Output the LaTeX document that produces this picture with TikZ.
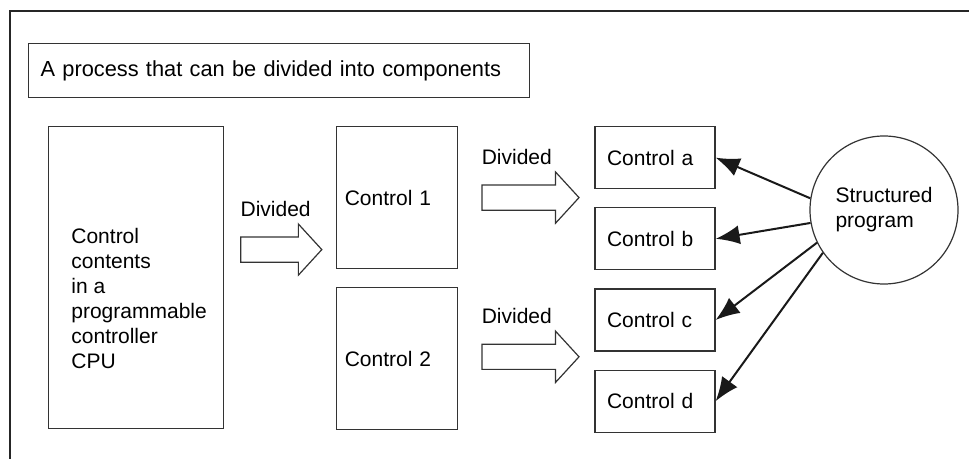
\documentclass[tikz,border=0pt]{standalone}
\usepackage{fontspec}
\setmainfont{Liberation Sans}
\usetikzlibrary{shapes,shapes.arrows,arrows.meta,positioning}
\newcommand{\dfont}{\fontsize{10.5pt}{12.5pt}\selectfont}
\tikzstyle{titlebox}=[rectangle,draw=black!80,line width=0.6pt,inner xsep=6pt,inner ysep=0pt,text width=238.5pt,minimum height=27pt,align=left,font=\fontsize{10.9pt}{13pt}\selectfont]
\tikzstyle{cpubox}=[rectangle,draw=black!80,line width=0.6pt,minimum width=87.5pt,minimum height=151pt]
\tikzstyle{cputext}=[inner sep=0pt,align=left,font=\dfont]
\tikzstyle{ctlbox}=[rectangle,draw=black!80,line width=0.6pt,inner xsep=4pt,text width=52.5pt,minimum height=71pt,align=left,font=\dfont]
\tikzstyle{subbox}=[rectangle,draw=black!80,line width=0.6pt,inner xsep=6pt,text width=48pt,minimum height=31pt,align=left,font=\dfont]
\tikzstyle{prog}=[circle,draw=black!80,line width=0.6pt,minimum size=74pt,inner sep=0pt,align=left,font=\dfont]
\tikzstyle{bigarr}=[single arrow,draw=black!80,line width=0.6pt,inner xsep=0pt,inner ysep=6pt,minimum width=25pt,single arrow head extend=6.5pt,single arrow tip angle=95]
\tikzstyle{lbl}=[inner sep=0pt,font=\dfont]
\tikzstyle{arr}=[-{Latex[length=12pt,width=9.5pt]},line width=1pt,black!90]
\begin{document}
\begin{tikzpicture}
\useasboundingbox (0,0) rectangle (484.5pt,-229.5pt);
% outer frame
\draw[line width=1pt,black!85] (5pt,-229.5pt) -- (5pt,-5.75pt) -- (484.5pt,-5.75pt);
\node[titlebox,anchor=north west] (title) at (14pt,-21.5pt) {A process that can be divided into components};
\node[cpubox,anchor=north west] (cpu) at (24pt,-63pt) {};
\node[cputext,below right=50.75pt and 11.5pt of cpu.north west] (cput) {Control\\contents\\in a\\programmable\\controller\\CPU};
\node[ctlbox,right=56pt of cpu.north east,anchor=north west] (c1) {Control 1};
\node[ctlbox,below=9pt of c1] (c2) {Control 2};
\node[subbox,right=68pt of c1.north east,anchor=north west] (ca) {Control a};
\node[subbox,below=9pt of ca] (cb) {Control b};
\node[subbox,below=9pt of cb] (cc) {Control c};
\node[subbox,below=9pt of cc] (cd) {Control d};
\node[prog] (sp) at (442pt,-105pt) {Structured\\program};
% divided arrows
\node[bigarr,minimum height=40.5pt,right=8pt of cpu,yshift=14pt] (d1) {};
\node[bigarr,minimum height=48.5pt,right=11.5pt of c1] (d2) {};
\node[bigarr,minimum height=48.5pt,right=11.5pt of c2,yshift=1pt] (d3) {};
\node[lbl,above=16.5pt of d1.west,anchor=base west] (l1) {Divided};
\node[lbl,above=16.5pt of d2.west,anchor=base west] (l2) {Divided};
\node[lbl,above=16.5pt of d3.west,anchor=base west] (l3) {Divided};
\draw[arr] (sp.171) -- (ca.east);
\draw[arr] (sp.190) -- (cb.east);
\draw[arr] (sp.206) -- (cc.east);
\draw[arr] (sp.215) -- (cd.east);
\end{tikzpicture}
\end{document}
